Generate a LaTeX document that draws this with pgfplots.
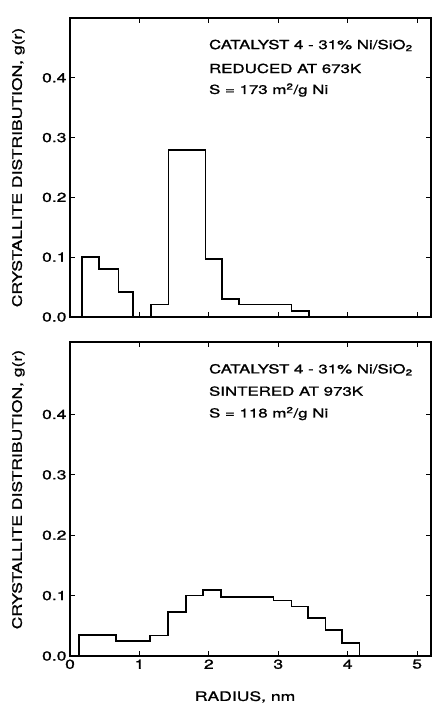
\documentclass[border=0pt]{standalone}
\usepackage{fontspec}
\setmainfont{TeX Gyre Heros}[FakeStretch=1.35, FakeBold=1.2]
\usepackage{pgfplots}
\pgfplotsset{compat=1.18}

\pgfplotsset{panel/.style={
    scale only axis,
    width=361pt,
    xmin=0, xmax=5.2, ymin=0,
    tick align=inside,
    major tick length=5pt,
    tick style={black, line width=1.1pt},
    axis line style={line width=1.4pt},
    xtick={0,1,2,3,4,5},
    ytick={0,0.1,0.2,0.3,0.4},
    yticklabels={0.0,0.1,0.2,0.3,0.4},
    ticklabel style={font=\fontsize{13}{15}\selectfont},
    ylabel={CRYSTALLITE DISTRIBUTION, g(r)},
    every axis y label/.style={at={(axis description cs:-0.143,0.5)}, rotate=90, anchor=center, font=\fontsize{13}{15}\selectfont},
    hist/.style={black, line width=1.7pt, const plot, mark=none},
}}

\begin{document}
\begin{tikzpicture}
\useasboundingbox (-70pt,-389pt) rectangle (363pt,317pt);

% reduced at 673 K
\begin{axis}[panel, height=299pt, ymax=0.5, xticklabels={}]
    \addplot[hist] coordinates {
        (0.17,0) (0.17,0.100) (0.42,0.080) (0.70,0.042) (0.91,0)
        (1.17,0.021) (1.42,0.279) (1.95,0.097) (2.19,0.030)
        (2.43,0.021) (3.19,0.010) (3.44,0) (3.44,0)
    };
    \begin{scope}[every node/.style={anchor=base west, inner sep=0pt, font=\fontsize{12.5}{14}\selectfont}]
    \node at (axis cs:2.0,0.448) {CATALYST 4 - 31\% Ni/SiO\textsubscript{2}};
    \node at (axis cs:2.0,0.408) {REDUCED AT 673K};
    \node at (axis cs:2.0,0.373) {S = 173 m\textsuperscript{2}/g Ni};
    \end{scope}
\end{axis}

% sintered at 973 K
\begin{axis}[panel, at={(0,-339pt)}, height=314pt, ymax=0.52,
    xticklabels={0,1,2,3,4,5},
    xlabel={RADIUS, nm},
    every axis y label/.append style={at={(axis description cs:-0.143,0.53)}},
    every axis x label/.style={at={(axis description cs:0.485,0)}, yshift=-41pt, anchor=center, font=\fontsize{13}{15}\selectfont}]
    \addplot[hist] coordinates {
        (0.13,0) (0.13,0.035) (0.66,0.025) (1.15,0.034) (1.41,0.073)
        (1.67,0.100) (1.92,0.109) (2.18,0.098) (2.93,0.092)
        (3.19,0.082) (3.43,0.063) (3.68,0.043) (3.92,0.022) (4.17,0) (4.17,0)
    };
    \begin{scope}[every node/.style={anchor=base west, inner sep=0pt, font=\fontsize{12.5}{14}\selectfont}]
    \node at (axis cs:2.0,0.468) {CATALYST 4 - 31\% Ni/SiO\textsubscript{2}};
    \node at (axis cs:2.0,0.431) {SINTERED AT 973K};
    \node at (axis cs:2.0,0.395) {S = 118 m\textsuperscript{2}/g Ni};
    \end{scope}
\end{axis}
\end{tikzpicture}
\end{document}
